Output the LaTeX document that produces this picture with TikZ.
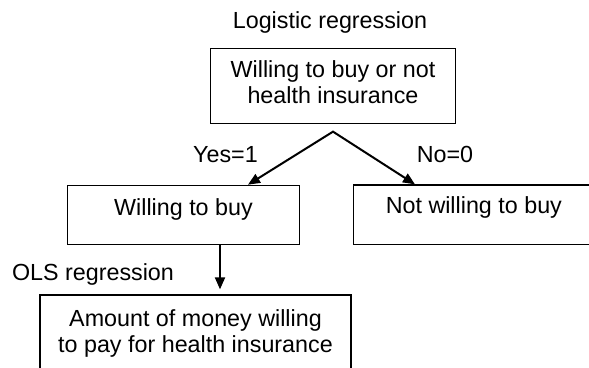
\documentclass[tikz,border=0pt]{standalone}
\usepackage{fontspec}
\setmainfont{Liberation Sans}
\usetikzlibrary{arrows.meta,calc}
\begin{document}
\begin{tikzpicture}[x=1pt,y=-1pt,
  every node/.style={font=\fontsize{23.3}{26}\selectfont},
  box/.style={draw, line width=1.3pt, inner sep=0pt, align=center},
  lbl/.style={inner sep=0pt, anchor=base},
  tip/.style={Triangle[length=12pt,width=10pt]},
  arr/.style={line width=2pt, -{Triangle[length=12pt,width=10pt]}}
]
\useasboundingbox (0,0) rectangle (589,367);
\clip (0,0) rectangle (589,367);
\node[lbl] (logit) at (330,28) {Logistic regression};
\node[box, minimum width=245, minimum height=75] (top) at (333,85.8) {Willing to buy or not\\health insurance\rule[-8pt]{0pt}{8pt}};
\node[box, minimum width=231.6, text height=30pt, text depth=29.3pt] (wtb) at (183.5,215) {Willing to buy};
\node[box, minimum width=250, text height=28pt, text depth=31.3pt, anchor=base west] (nwtb) at (352.7,213) {\hspace{-9pt}Not willing to buy};
\node[box, minimum width=311, minimum height=77] (amt) at (195.5,333.5) {Amount of money willing\\to pay for health insurance};
\node[lbl] (yes) at (225.5,162) {Yes=1};
\node[lbl] (no) at (445,162) {No=0};
\node[lbl] (ols) at (93,280) {OLS regression};
\coordinate (apex) at ([yshift=-7.7pt]top.south);
\draw[line width=2pt, line join=miter, {Triangle[length=12pt,width=10pt]}-{Triangle[length=12pt,width=10pt]}]
  ([xshift=64.5pt]wtb.north) -- (apex) -- ([xshift=62.3pt]nwtb.north west);
\draw[arr, shorten >=5pt] (wtb.south -| 220,0) -- (amt.north -| 220,0);
\end{tikzpicture}
\end{document}
